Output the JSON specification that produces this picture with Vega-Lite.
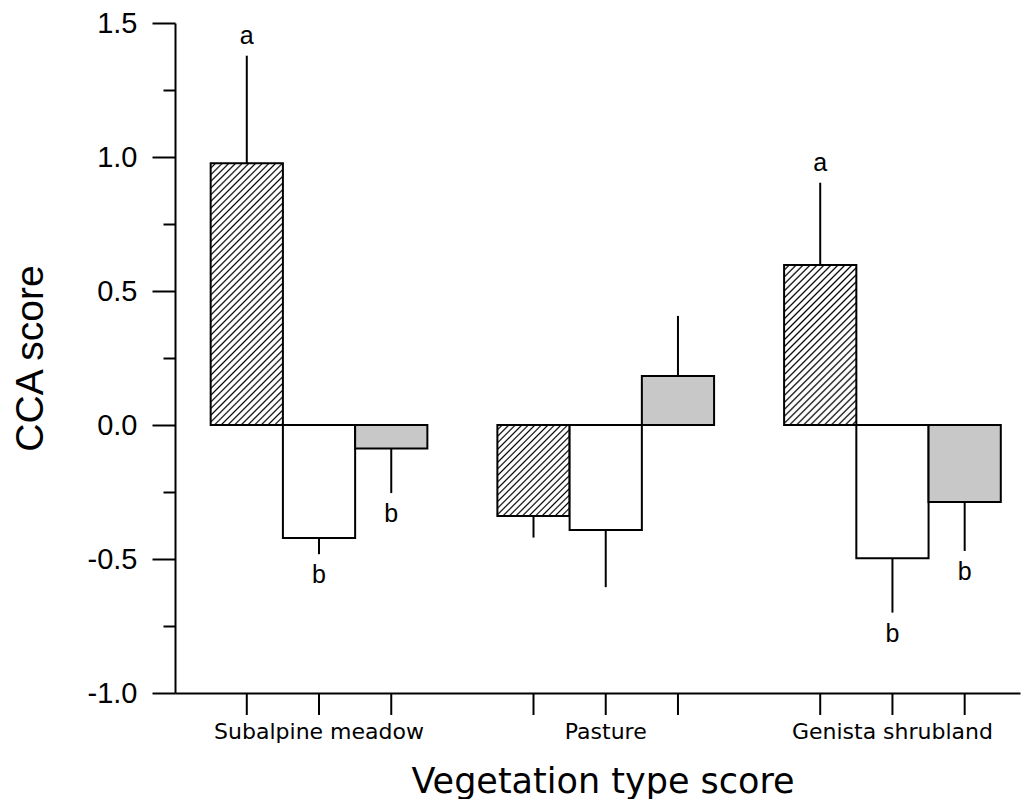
{
  "$schema": "https://vega.github.io/schema/vega-lite/v6.json",
  "width": 845,
  "height": 670,
  "autosize": {"type": "none"},
  "padding": {"left": 175, "top": 23, "right": 4, "bottom": 106},
  "background": "white",
  "config": {
    "view": {"stroke": null},
    "axis": {"domainColor": "black", "domainWidth": 2, "tickColor": "black", "tickWidth": 2, "labelColor": "black", "titleColor": "black", "grid": false, "titleFontWeight": "normal"}
  },
  "data": {
    "values": [
      {"group": "Subalpine meadow", "series": "S1", "value": 0.977, "err": 1.378, "letter": "a"},
      {"group": "Subalpine meadow", "series": "S2", "value": -0.422, "err": -0.482, "letter": "b"},
      {"group": "Subalpine meadow", "series": "S3", "value": -0.088, "err": -0.254, "letter": "b"},
      {"group": "Pasture", "series": "S1", "value": -0.34, "err": -0.42, "letter": ""},
      {"group": "Pasture", "series": "S2", "value": -0.392, "err": -0.605, "letter": ""},
      {"group": "Pasture", "series": "S3", "value": 0.183, "err": 0.407, "letter": ""},
      {"group": "Genista shrubland", "series": "S1", "value": 0.597, "err": 0.904, "letter": "a"},
      {"group": "Genista shrubland", "series": "S2", "value": -0.497, "err": -0.7, "letter": "b"},
      {"group": "Genista shrubland", "series": "S3", "value": -0.287, "err": -0.47, "letter": "b"}
    ]
  },
  "encoding": {
    "x": {
      "field": "group", "type": "nominal",
      "sort": ["Subalpine meadow", "Pasture", "Genista shrubland"],
      "scale": {"paddingInner": 0.2442, "paddingOuter": 0.0957, "align": 0.65},
      "axis": {
        "title": "Vegetation type score", "titleFont": "DejaVu Sans", "titleFontSize": 35,
        "titleX": 427.5, "titleY": 99, "titleBaseline": "alphabetic", "titleAlign": "center",
        "ticks": false, "tickSize": 0, "labelAngle": 0, "labelFont": "DejaVu Sans", "labelFontSize": 22,
        "labelBaseline": "alphabetic", "labelPadding": 45, "labelLimit": 0
      }
    },
    "xOffset": {"field": "series", "type": "nominal", "sort": ["S1", "S2", "S3"], "scale": {"paddingInner": 0, "paddingOuter": 0}}
  },
  "layer": [
    {
      "mark": {"type": "bar", "stroke": "black", "strokeWidth": 2},
      "encoding": {
        "y": {
          "field": "value", "type": "quantitative",
          "scale": {"domain": [-1, 1.5], "nice": false},
          "axis": {
            "title": "CCA score", "titleFont": "Liberation Sans", "titleFontSize": 39,
            "titleX": -133, "titleY": 335, "titleAngle": -90, "titleBaseline": "alphabetic", "titleAlign": "center",
            "values": [-1, -0.75, -0.5, -0.25, 0, 0.25, 0.5, 0.75, 1, 1.25, 1.5],
            "tickSize": {"condition": {"test": "abs(datum.value * 2 - round(datum.value * 2)) < 0.01", "value": 23}, "value": 12},
            "labelExpr": "abs(datum.value * 2 - round(datum.value * 2)) < 0.01 ? (datum.value < 0 ? '-' : '') + format(abs(datum.value), '.1f') : ''",
            "labelFont": "Liberation Sans", "labelFontSize": 29, "labelPadding": 15, "labelBaseline": "middle"
          }
        },
        "fill": {
          "condition": [
            {"test": "datum.group === 'Subalpine meadow' && datum.series === 'S1'", "value": {"gradient": "linear", "x1": 0, "y1": 0, "x2": 0.327, "y2": 1.1857, "stops": [
              {"offset":0.01,"color":"#fff"},{"offset":0.015,"color":"#000"},{"offset":0.02,"color":"#fff"},
              {"offset":0.03,"color":"#fff"},{"offset":0.035,"color":"#000"},{"offset":0.04,"color":"#fff"},
              {"offset":0.05,"color":"#fff"},{"offset":0.055,"color":"#000"},{"offset":0.06,"color":"#fff"},
              {"offset":0.07,"color":"#fff"},{"offset":0.075,"color":"#000"},{"offset":0.08,"color":"#fff"},
              {"offset":0.09,"color":"#fff"},{"offset":0.095,"color":"#000"},{"offset":0.1,"color":"#fff"},
              {"offset":0.11,"color":"#fff"},{"offset":0.115,"color":"#000"},{"offset":0.12,"color":"#fff"},
              {"offset":0.13,"color":"#fff"},{"offset":0.135,"color":"#000"},{"offset":0.14,"color":"#fff"},
              {"offset":0.15,"color":"#fff"},{"offset":0.155,"color":"#000"},{"offset":0.16,"color":"#fff"},
              {"offset":0.17,"color":"#fff"},{"offset":0.175,"color":"#000"},{"offset":0.18,"color":"#fff"},
              {"offset":0.19,"color":"#fff"},{"offset":0.195,"color":"#000"},{"offset":0.2,"color":"#fff"},
              {"offset":0.21,"color":"#fff"},{"offset":0.215,"color":"#000"},{"offset":0.22,"color":"#fff"},
              {"offset":0.23,"color":"#fff"},{"offset":0.235,"color":"#000"},{"offset":0.24,"color":"#fff"},
              {"offset":0.25,"color":"#fff"},{"offset":0.255,"color":"#000"},{"offset":0.26,"color":"#fff"},
              {"offset":0.27,"color":"#fff"},{"offset":0.275,"color":"#000"},{"offset":0.28,"color":"#fff"},
              {"offset":0.29,"color":"#fff"},{"offset":0.295,"color":"#000"},{"offset":0.3,"color":"#fff"},
              {"offset":0.31,"color":"#fff"},{"offset":0.315,"color":"#000"},{"offset":0.32,"color":"#fff"},
              {"offset":0.33,"color":"#fff"},{"offset":0.335,"color":"#000"},{"offset":0.34,"color":"#fff"},
              {"offset":0.35,"color":"#fff"},{"offset":0.355,"color":"#000"},{"offset":0.36,"color":"#fff"},
              {"offset":0.37,"color":"#fff"},{"offset":0.375,"color":"#000"},{"offset":0.38,"color":"#fff"},
              {"offset":0.39,"color":"#fff"},{"offset":0.395,"color":"#000"},{"offset":0.4,"color":"#fff"},
              {"offset":0.41,"color":"#fff"},{"offset":0.415,"color":"#000"},{"offset":0.42,"color":"#fff"},
              {"offset":0.43,"color":"#fff"},{"offset":0.435,"color":"#000"},{"offset":0.44,"color":"#fff"},
              {"offset":0.45,"color":"#fff"},{"offset":0.455,"color":"#000"},{"offset":0.46,"color":"#fff"},
              {"offset":0.47,"color":"#fff"},{"offset":0.475,"color":"#000"},{"offset":0.48,"color":"#fff"},
              {"offset":0.49,"color":"#fff"},{"offset":0.495,"color":"#000"},{"offset":0.5,"color":"#fff"},
              {"offset":0.51,"color":"#fff"},{"offset":0.515,"color":"#000"},{"offset":0.52,"color":"#fff"},
              {"offset":0.53,"color":"#fff"},{"offset":0.535,"color":"#000"},{"offset":0.54,"color":"#fff"},
              {"offset":0.55,"color":"#fff"},{"offset":0.555,"color":"#000"},{"offset":0.56,"color":"#fff"},
              {"offset":0.57,"color":"#fff"},{"offset":0.575,"color":"#000"},{"offset":0.58,"color":"#fff"},
              {"offset":0.59,"color":"#fff"},{"offset":0.595,"color":"#000"},{"offset":0.6,"color":"#fff"},
              {"offset":0.61,"color":"#fff"},{"offset":0.615,"color":"#000"},{"offset":0.62,"color":"#fff"},
              {"offset":0.63,"color":"#fff"},{"offset":0.635,"color":"#000"},{"offset":0.64,"color":"#fff"},
              {"offset":0.65,"color":"#fff"},{"offset":0.655,"color":"#000"},{"offset":0.66,"color":"#fff"},
              {"offset":0.67,"color":"#fff"},{"offset":0.675,"color":"#000"},{"offset":0.68,"color":"#fff"},
              {"offset":0.69,"color":"#fff"},{"offset":0.695,"color":"#000"},{"offset":0.7,"color":"#fff"},
              {"offset":0.71,"color":"#fff"},{"offset":0.715,"color":"#000"},{"offset":0.72,"color":"#fff"},
              {"offset":0.73,"color":"#fff"},{"offset":0.735,"color":"#000"},{"offset":0.74,"color":"#fff"},
              {"offset":0.75,"color":"#fff"},{"offset":0.755,"color":"#000"},{"offset":0.76,"color":"#fff"},
              {"offset":0.77,"color":"#fff"},{"offset":0.775,"color":"#000"},{"offset":0.78,"color":"#fff"},
              {"offset":0.79,"color":"#fff"},{"offset":0.795,"color":"#000"},{"offset":0.8,"color":"#fff"},
              {"offset":0.81,"color":"#fff"},{"offset":0.815,"color":"#000"},{"offset":0.82,"color":"#fff"},
              {"offset":0.83,"color":"#fff"},{"offset":0.835,"color":"#000"},{"offset":0.84,"color":"#fff"},
              {"offset":0.85,"color":"#fff"},{"offset":0.855,"color":"#000"},{"offset":0.86,"color":"#fff"},
              {"offset":0.87,"color":"#fff"},{"offset":0.875,"color":"#000"},{"offset":0.88,"color":"#fff"},
              {"offset":0.89,"color":"#fff"},{"offset":0.895,"color":"#000"},{"offset":0.9,"color":"#fff"},
              {"offset":0.91,"color":"#fff"},{"offset":0.915,"color":"#000"},{"offset":0.92,"color":"#fff"},
              {"offset":0.93,"color":"#fff"},{"offset":0.935,"color":"#000"},{"offset":0.94,"color":"#fff"},
              {"offset":0.95,"color":"#fff"},{"offset":0.955,"color":"#000"},{"offset":0.96,"color":"#fff"},
              {"offset":0.97,"color":"#fff"},{"offset":0.975,"color":"#000"},{"offset":0.98,"color":"#fff"},
              {"offset":0.99,"color":"#fff"},{"offset":0.995,"color":"#000"},{"offset":1,"color":"#fff"}
            ]}},
            {"test": "datum.group === 'Pasture' && datum.series === 'S1'", "value": {"gradient": "linear", "x1": 0, "y1": 0, "x2": 0.8726, "y2": 1.101, "stops": [
              {"offset":0.02,"color":"#fff"},{"offset":0.03,"color":"#000"},{"offset":0.04,"color":"#fff"},
              {"offset":0.06,"color":"#fff"},{"offset":0.07,"color":"#000"},{"offset":0.08,"color":"#fff"},
              {"offset":0.1,"color":"#fff"},{"offset":0.11,"color":"#000"},{"offset":0.12,"color":"#fff"},
              {"offset":0.14,"color":"#fff"},{"offset":0.15,"color":"#000"},{"offset":0.16,"color":"#fff"},
              {"offset":0.18,"color":"#fff"},{"offset":0.19,"color":"#000"},{"offset":0.2,"color":"#fff"},
              {"offset":0.22,"color":"#fff"},{"offset":0.23,"color":"#000"},{"offset":0.24,"color":"#fff"},
              {"offset":0.26,"color":"#fff"},{"offset":0.27,"color":"#000"},{"offset":0.28,"color":"#fff"},
              {"offset":0.3,"color":"#fff"},{"offset":0.31,"color":"#000"},{"offset":0.32,"color":"#fff"},
              {"offset":0.34,"color":"#fff"},{"offset":0.35,"color":"#000"},{"offset":0.36,"color":"#fff"},
              {"offset":0.38,"color":"#fff"},{"offset":0.39,"color":"#000"},{"offset":0.4,"color":"#fff"},
              {"offset":0.42,"color":"#fff"},{"offset":0.43,"color":"#000"},{"offset":0.44,"color":"#fff"},
              {"offset":0.46,"color":"#fff"},{"offset":0.47,"color":"#000"},{"offset":0.48,"color":"#fff"},
              {"offset":0.5,"color":"#fff"},{"offset":0.51,"color":"#000"},{"offset":0.52,"color":"#fff"},
              {"offset":0.54,"color":"#fff"},{"offset":0.55,"color":"#000"},{"offset":0.56,"color":"#fff"},
              {"offset":0.58,"color":"#fff"},{"offset":0.59,"color":"#000"},{"offset":0.6,"color":"#fff"},
              {"offset":0.62,"color":"#fff"},{"offset":0.63,"color":"#000"},{"offset":0.64,"color":"#fff"},
              {"offset":0.66,"color":"#fff"},{"offset":0.67,"color":"#000"},{"offset":0.68,"color":"#fff"},
              {"offset":0.7,"color":"#fff"},{"offset":0.71,"color":"#000"},{"offset":0.72,"color":"#fff"},
              {"offset":0.74,"color":"#fff"},{"offset":0.75,"color":"#000"},{"offset":0.76,"color":"#fff"},
              {"offset":0.78,"color":"#fff"},{"offset":0.79,"color":"#000"},{"offset":0.8,"color":"#fff"},
              {"offset":0.82,"color":"#fff"},{"offset":0.83,"color":"#000"},{"offset":0.84,"color":"#fff"},
              {"offset":0.86,"color":"#fff"},{"offset":0.87,"color":"#000"},{"offset":0.88,"color":"#fff"},
              {"offset":0.9,"color":"#fff"},{"offset":0.91,"color":"#000"},{"offset":0.92,"color":"#fff"},
              {"offset":0.94,"color":"#fff"},{"offset":0.95,"color":"#000"},{"offset":0.96,"color":"#fff"},
              {"offset":0.98,"color":"#fff"},{"offset":0.99,"color":"#000"},{"offset":1,"color":"#fff"}
            ]}},
            {"test": "datum.group === 'Genista shrubland' && datum.series === 'S1'", "value": {"gradient": "linear", "x1": 0, "y1": 0, "x2": 0.5441, "y2": 1.2058, "stops": [
              {"offset":0.015,"color":"#fff"},{"offset":0.0225,"color":"#000"},{"offset":0.03,"color":"#fff"},
              {"offset":0.045,"color":"#fff"},{"offset":0.0525,"color":"#000"},{"offset":0.06,"color":"#fff"},
              {"offset":0.075,"color":"#fff"},{"offset":0.0825,"color":"#000"},{"offset":0.09,"color":"#fff"},
              {"offset":0.105,"color":"#fff"},{"offset":0.1125,"color":"#000"},{"offset":0.12,"color":"#fff"},
              {"offset":0.135,"color":"#fff"},{"offset":0.1425,"color":"#000"},{"offset":0.15,"color":"#fff"},
              {"offset":0.165,"color":"#fff"},{"offset":0.1725,"color":"#000"},{"offset":0.18,"color":"#fff"},
              {"offset":0.195,"color":"#fff"},{"offset":0.2025,"color":"#000"},{"offset":0.21,"color":"#fff"},
              {"offset":0.225,"color":"#fff"},{"offset":0.2325,"color":"#000"},{"offset":0.24,"color":"#fff"},
              {"offset":0.255,"color":"#fff"},{"offset":0.2625,"color":"#000"},{"offset":0.27,"color":"#fff"},
              {"offset":0.285,"color":"#fff"},{"offset":0.2925,"color":"#000"},{"offset":0.3,"color":"#fff"},
              {"offset":0.315,"color":"#fff"},{"offset":0.3225,"color":"#000"},{"offset":0.33,"color":"#fff"},
              {"offset":0.345,"color":"#fff"},{"offset":0.3525,"color":"#000"},{"offset":0.36,"color":"#fff"},
              {"offset":0.375,"color":"#fff"},{"offset":0.3825,"color":"#000"},{"offset":0.39,"color":"#fff"},
              {"offset":0.405,"color":"#fff"},{"offset":0.4125,"color":"#000"},{"offset":0.42,"color":"#fff"},
              {"offset":0.435,"color":"#fff"},{"offset":0.4425,"color":"#000"},{"offset":0.45,"color":"#fff"},
              {"offset":0.465,"color":"#fff"},{"offset":0.4725,"color":"#000"},{"offset":0.48,"color":"#fff"},
              {"offset":0.495,"color":"#fff"},{"offset":0.5025,"color":"#000"},{"offset":0.51,"color":"#fff"},
              {"offset":0.525,"color":"#fff"},{"offset":0.5325,"color":"#000"},{"offset":0.54,"color":"#fff"},
              {"offset":0.555,"color":"#fff"},{"offset":0.5625,"color":"#000"},{"offset":0.57,"color":"#fff"},
              {"offset":0.585,"color":"#fff"},{"offset":0.5925,"color":"#000"},{"offset":0.6,"color":"#fff"},
              {"offset":0.615,"color":"#fff"},{"offset":0.6225,"color":"#000"},{"offset":0.63,"color":"#fff"},
              {"offset":0.645,"color":"#fff"},{"offset":0.6525,"color":"#000"},{"offset":0.66,"color":"#fff"},
              {"offset":0.675,"color":"#fff"},{"offset":0.6825,"color":"#000"},{"offset":0.69,"color":"#fff"},
              {"offset":0.705,"color":"#fff"},{"offset":0.7125,"color":"#000"},{"offset":0.72,"color":"#fff"},
              {"offset":0.735,"color":"#fff"},{"offset":0.7425,"color":"#000"},{"offset":0.75,"color":"#fff"},
              {"offset":0.765,"color":"#fff"},{"offset":0.7725,"color":"#000"},{"offset":0.78,"color":"#fff"},
              {"offset":0.795,"color":"#fff"},{"offset":0.8025,"color":"#000"},{"offset":0.81,"color":"#fff"},
              {"offset":0.825,"color":"#fff"},{"offset":0.8325,"color":"#000"},{"offset":0.84,"color":"#fff"},
              {"offset":0.855,"color":"#fff"},{"offset":0.8625,"color":"#000"},{"offset":0.87,"color":"#fff"},
              {"offset":0.885,"color":"#fff"},{"offset":0.8925,"color":"#000"},{"offset":0.9,"color":"#fff"},
              {"offset":0.915,"color":"#fff"},{"offset":0.9225,"color":"#000"},{"offset":0.93,"color":"#fff"},
              {"offset":0.945,"color":"#fff"},{"offset":0.9525,"color":"#000"},{"offset":0.96,"color":"#fff"},
              {"offset":0.975,"color":"#fff"},{"offset":0.9825,"color":"#000"},{"offset":0.99,"color":"#fff"}
            ]}},
            {"test": "datum.series === 'S3'", "value": "#c8c8c8"}
          ],
          "value": "white"
        }
      }
    },
    {
      "mark": {"type": "rule", "strokeWidth": 2, "color": "black"},
      "encoding": {
        "y": {"field": "value", "type": "quantitative"},
        "y2": {"field": "err"}
      }
    },
    {
      "mark": {"type": "rule", "strokeWidth": 2, "color": "black"},
      "encoding": {
        "y": {"datum": -1},
        "y2": {"datum": -1.082}
      }
    },
    {
      "transform": [{"filter": "datum.letter === 'a'"}],
      "mark": {"type": "text", "font": "Liberation Sans", "fontSize": 25, "baseline": "alphabetic", "align": "center", "dy": -12, "color": "black"},
      "encoding": {
        "y": {"field": "err", "type": "quantitative"},
        "text": {"field": "letter"}
      }
    },
    {
      "transform": [{"filter": "datum.letter === 'b'"}],
      "mark": {"type": "text", "font": "Liberation Sans", "fontSize": 25, "baseline": "top", "align": "center", "dy": 9, "color": "black"},
      "encoding": {
        "y": {"field": "err", "type": "quantitative"},
        "text": {"field": "letter"}
      }
    }
  ]
}
